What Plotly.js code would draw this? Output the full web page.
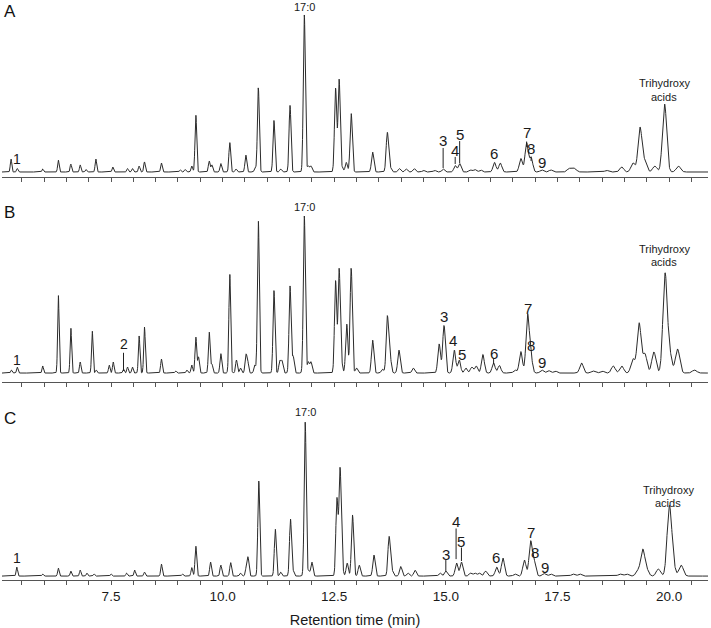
<!DOCTYPE html>
<html>
<head>
<meta charset="utf-8">
<script src="https://cdn.plot.ly/plotly-3.0.1.min.js"></script>
<style>html,body{margin:0;padding:0;background:#fff;}#chart{width:711px;height:628px;}</style>
</head>
<body>
<div id="chart"></div>
<script>
// ---------- DATA (retention time in min, relative intensity with 17:0 ~ 100) ----------
const timesA = [5.26,5.40,5.97,6.32,6.60,6.81,6.94,7.16,7.54,7.87,7.98,8.13,8.25,8.63,9.05,9.16,9.31,9.40,9.70,9.76,9.96,10.16,10.30,10.52,10.73,10.80,11.15,11.30,11.51,11.83,11.92,11.98,12.53,12.61,12.68,12.77,12.88,13.36,13.69,13.76,13.96,14.11,14.29,14.50,14.75,14.94,15.21,15.31,15.55,15.65,15.78,16.09,16.22,16.68,16.81,16.91,17.15,17.35,17.75,17.83,17.90,18.60,18.94,19.19,19.35,19.46,19.68,19.90,20.21];
const heightsA = [8.3,2.2,1.9,7.6,5.1,4.5,1.6,8.3,3.2,2.2,2.2,3.8,6.4,5.7,1.3,1.6,3.8,36.3,7.0,4.5,5.4,18.8,1.9,10.8,2.5,53.8,32.8,1.9,42.4,100,3.8,3.8,53.2,58.9,2.5,6.1,37.3,12.7,25.2,2.5,2.2,1.9,2.2,1.0,1.0,1.9,4.1,5.4,1.3,1.6,1.3,6.1,5.7,8.6,18.5,9.2,1.3,1.3,1.9,2.2,1.6,1.0,3.2,5.7,28.3,6.4,3.8,43.3,3.8];

const timesB = [5.27,5.40,5.97,6.32,6.60,6.81,7.08,7.17,7.46,7.55,7.78,7.87,7.98,8.13,8.25,8.63,8.95,9.20,9.31,9.40,9.46,9.70,9.76,9.96,10.16,10.31,10.40,10.52,10.56,10.72,10.80,11.15,11.28,11.33,11.51,11.58,11.83,11.92,11.98,12.53,12.61,12.66,12.78,12.88,13.00,13.36,13.58,13.69,13.75,13.95,14.27,14.85,14.96,15.19,15.30,15.45,15.58,15.68,15.83,16.07,16.20,16.55,16.68,16.83,16.90,17.15,17.30,17.45,18.04,18.30,18.50,18.75,18.94,19.19,19.33,19.46,19.66,19.91,20.01,20.19,20.57];
const heightsB = [1.9,3.8,4.5,49.7,28.7,7.0,26.8,1.9,5.1,7.0,2.5,3.8,3.8,23.6,29.3,8.9,1.3,1.9,5.1,22.9,10.2,26.1,5.7,12.4,63.1,8.3,3.2,10.8,7.6,5.1,97.1,52.5,7.6,7.6,55.4,10.8,100,7.0,7.0,58.6,65.6,7.6,31.2,66.9,3.2,21.0,2.5,35.7,10.8,14.6,3.2,18.5,30.3,14.6,8.3,3.2,3.8,4.5,11.8,6.4,4.8,1.9,13.7,35.7,11.5,1.9,1.6,1.3,6.4,1.3,1.3,4.5,4.5,8.9,31.8,12.1,13.4,62.4,12.7,15.3,1.9];

const timesC = [5.39,5.97,6.32,6.60,6.81,6.96,7.12,7.50,7.85,8.03,8.25,8.63,9.10,9.31,9.40,9.73,9.96,10.18,10.40,10.53,10.57,10.81,11.18,11.30,11.52,11.58,11.85,11.93,12.00,12.56,12.63,12.67,12.79,12.91,13.06,13.39,13.73,13.80,13.99,14.15,14.31,14.87,15.00,15.24,15.35,15.55,15.65,15.75,15.89,16.14,16.28,16.55,16.76,16.90,16.98,17.20,17.35,17.85,18.00,18.90,19.05,19.30,19.41,19.50,19.76,20.00,20.07,20.27];
const heightsC = [5.7,1.3,5.1,3.2,3.8,1.9,1.3,1.3,1.9,3.8,2.5,7.6,1.3,5.4,19.1,8.9,7.0,8.6,1.9,5.1,11.5,60.5,29.9,2.5,36.3,3.2,98,3.2,8.9,49.0,66,10,8.3,38.9,7.0,13.4,25.2,3.2,6.1,1.9,3.8,1.9,3.2,8.3,8.9,1.9,1.9,1.9,3.2,5.7,11.5,1.3,10.2,21.7,8.9,1.6,1.3,1.3,1.3,1.3,1.3,3.2,16.6,3.8,4.5,40.1,12.7,7.0];

const tickLabels = ["7.5","10.0","12.5","15.0","17.5","20.0"];
const tickValues = [7.5,10.0,12.5,15.0,17.5,20.0];
const xAxisTitle = "Retention time (min)";
const panelNames = ["A","B","C"];

// ---------- RENDERING ----------
const X0 = 5.058, X1 = 20.873, STEP = 0.004;
function sigma(t){ return 0.016 + 0.00014*(t-5)*(t-5); }
function trace(times, heights, xa, ya){
  const xs = [], ys = [];
  const n = Math.round((X1 - X0)/STEP);
  for (let i = 0; i <= n; i++){
    const x = X0 + i*STEP;
    let y = 0;
    for (let k = 0; k < times.length; k++){
      const s = sigma(times[k]);
      const d = (x - times[k])/s;
      if (d > -6 && d < 6) y += heights[k]*Math.exp(-0.5*d*d);
    }
    xs.push(x); ys.push(y);
  }
  return {x: xs, y: ys, xaxis: xa, yaxis: ya, type: 'scatter', mode: 'lines',
          line: {color: '#2b2b2b', width: 1}, hoverinfo: 'skip', showlegend: false};
}

const data = [
  trace(timesA, heightsA, 'x', 'y'),
  trace(timesB, heightsB, 'x2', 'y2'),
  trace(timesC, heightsC, 'x3', 'y3')
];

const FONT = '"Liberation Sans", Arial, Helvetica, sans-serif';
const TXT = '#1a1a1a';

function xaxisDef(anchor, showLabels){
  return {
    anchor: anchor, range: [X0, X1], showgrid: false, zeroline: false,
    showline: true, linecolor: '#555', linewidth: 1,
    ticks: 'outside', ticklen: 4, tickwidth: 1, tickcolor: '#555',
    tickvals: tickValues, ticktext: tickLabels, showticklabels: showLabels,
    tickfont: {family: FONT, size: 13.5, color: TXT},
    minor: {dtick: 0.5, tick0: 0, ticks: 'outside', ticklen: 4, tickwidth: 1, tickcolor: '#555', showgrid: false}
  };
}
function yaxisDef(domain, lo){
  return {domain: domain, range: [lo, 103.2], visible: false, fixedrange: true};
}

// label spec: [text, time, textY, lineBottom, lineTop]
const labelSpecs = {
  A: [["1",5.40,8.0],["3",14.94,19.9,2.5,15.3],["4",15.21,13.7,5.1,9.6],["5",15.31,23.9,5.7,19.7],
      ["6",16.09,11.9],["7",16.81,25.0,16.0,19.4],["8",16.91,14.9,7.0,9.8],["9",17.15,5.9]],
  B: [["1",5.40,8.1],["2",7.78,18.7,1.3,12.9],["3",14.96,36.0],["4",15.17,20.6],["5",15.36,12.1],
      ["6",16.07,12.7,5.7,8.9],["7",16.83,41.4],["8",16.91,17.5],["9",17.15,6.4]],
  C: [["1",5.39,11.7],["3",15.00,14.0,2.5,10.2],["4",15.23,35.0,10.8,30.3],["5",15.35,22.3,9.6,18.2],
      ["6",16.13,11.8],["7",16.90,27.7],["8",16.99,14.8],["9",17.22,5.7]]
};
const refs = {A: ['x','y'], B: ['x2','y2'], C: ['x3','y3']};
// peak-name positions: time on the x axis, paper fraction for y
const noteFA = {A: [11.83, 0.9879], B: [11.83, 0.6436], C: [11.85, 0.2897]};
const noteTri = {A: [19.89, 0.8574, 0.8333], B: [19.89, 0.5702, 0.5478], C: [19.98, 0.1552, 0.1333]};
const letterY = {A: 0.981, B: 0.6336, C: 0.2776};

const annotations = [], shapes = [];
function note(xr, x, y, text, size){
  annotations.push({xref: xr, yref: 'paper', x: x, y: y, text: text, showarrow: false,
    xanchor: 'center', yanchor: 'middle', align: 'center', borderpad: 0, font: {family: FONT, size: size, color: TXT}});
}
panelNames.forEach(p => {
  const [xr, yr] = refs[p];
  labelSpecs[p].forEach(s => {
    annotations.push({xref: xr, yref: yr, x: s[1], y: s[2], text: s[0], showarrow: false, borderpad: 0,
      xanchor: 'center', yanchor: 'middle', font: {family: FONT, size: s[0]==='1'||s[0]==='2' ? 14 : 15, color: TXT}});
    if (s.length > 3) shapes.push({type: 'line', xref: xr, yref: yr, x0: s[1], x1: s[1], y0: s[3], y1: s[4],
      line: {color: '#222', width: 1}});
  });
  note(xr, noteFA[p][0], noteFA[p][1], '17:0', 11);
  note(xr, noteTri[p][0], noteTri[p][1], 'Trihydroxy', 11);
  note(xr, noteTri[p][0], noteTri[p][2], 'acids', 11);
  annotations.push({xref: 'paper', yref: 'paper', x: 0, y: letterY[p], text: p, showarrow: false,
    xanchor: 'left', yanchor: 'middle', font: {family: FONT, size: 17, color: '#111'}});
});

const xa3 = xaxisDef('y3', true);
xa3.title = {text: xAxisTitle, font: {family: FONT, size: 14.5, color: TXT}, standoff: 13};

const layout = {
  width: 711, height: 628,
  margin: {l: 2, r: 3, t: 0, b: 48, pad: 0},
  paper_bgcolor: '#fff', plot_bgcolor: '#fff',
  showlegend: false,
  xaxis: xaxisDef('y', false),
  xaxis2: xaxisDef('y2', false),
  xaxis3: xa3,
  yaxis: yaxisDef([0.6948, 0.9828], -3.2),
  yaxis2: yaxisDef([0.3414, 0.6362], -5.7),
  yaxis3: yaxisDef([0, 0.2862], -2.5),
  annotations: annotations,
  shapes: shapes
};

Plotly.newPlot('chart', data, layout, {staticPlot: true, displayModeBar: false});
</script>
</body>
</html>
